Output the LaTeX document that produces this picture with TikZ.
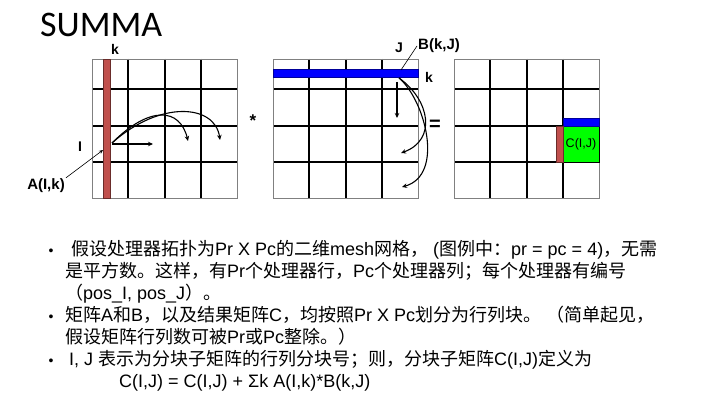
\documentclass[tikz,border=0pt]{standalone}
\usepackage{fontspec}
\setmainfont{Liberation Sans}
\newfontfamily\cjk{Noto Sans CJK SC}
\newfontfamily\titlefont{Carlito}
\usepackage{xcolor}
\usepackage{tikz}
\usetikzlibrary{arrows.meta}

\definecolor{barred}{RGB}{192,80,77}
\definecolor{barblue}{RGB}{0,0,255}
\definecolor{cellgreen}{RGB}{0,255,0}

\tikzset{
  lbl/.style={font=\bfseries\fontsize{14}{16}\selectfont, inner sep=1pt},
  txt/.style={anchor=base west, inner sep=0pt, font=\fontsize{18}{22}\selectfont},
  dot/.style={anchor=base, inner sep=0pt, font=\fontsize{14}{22}\selectfont},
  gridline/.style={line width=1.6},
  flow/.style={line width=1.1, -{Stealth[length=5pt,width=4.5pt]}},
}

\begin{document}
\begin{tikzpicture}[x=1pt, y=-1pt]

\useasboundingbox (0,0) rectangle (713,412);

\node[anchor=base west, inner sep=0pt, font=\titlefont\fontsize{36}{40}\selectfont] (title) at (40,37) {SUMMA};

% the three 4x4 grids
\foreach \gx in {92,273,454}{
  \draw[gridline] (\gx+36,59) -- (\gx+36,198);
  \draw[gridline] (\gx+73,59) -- (\gx+73,198);
  \draw[gridline] (\gx+109,59) -- (\gx+109,198);
  \draw[gridline] (\gx,89) -- (\gx+145,89);
  \draw[gridline] (\gx,126) -- (\gx+145,126);
  \draw[gridline] (\gx,162) -- (\gx+145,162);
  \draw[gray, line width=0.9] (\gx,59) rectangle (\gx+145,198);
}

% A: column block k
\draw[fill=barred, draw=barred!55!black, line width=0.7] (103,59) rectangle (110,198);

\node[lbl, inner sep=0pt] (kA) at (115,49) {k};
\node[lbl] (IA) at (80,147) {I};
\node[lbl, font=\bfseries\fontsize{15}{16}\selectfont] (Alabel) at (46,186) {A(I,k)};
\coordinate (abar) at (103,150);
\draw[line width=0.6, -{Stealth[length=4pt,width=3.5pt]}] (Alabel.north east) -- (abar);

\coordinate (astart) at (112,143);
\coordinate (aend0) at (153,144);
\coordinate (aend1) at (188,141);
\coordinate (aend2) at (220,140);
\draw[flow] (112,144) -- (aend0);
\draw[flow] (astart) .. controls (150,105) and (180,108) .. (aend1);
\draw[flow] (astart) .. controls (160,100) and (215,104) .. (aend2);

\node[lbl, font=\bfseries\fontsize{17}{18}\selectfont] (star) at (253,121) {*};

% B: row block k
\draw[fill=barblue, draw=barblue!60!black, line width=0.6] (273,69) rectangle (418,77);

\node[lbl] (JB) at (399,48) {J};
\node[lbl, font=\bfseries\fontsize{15}{16}\selectfont, anchor=west] (Blabel) at (417,46) {B(k,J)};
\node[lbl] (kB) at (429,77) {k};
\coordinate (bbar) at (401,70);
\draw[line width=0.6] (Blabel.west) -- (bbar);

\coordinate (bstart) at (399,78);
\coordinate (bend0) at (397,118);
\coordinate (bend1) at (401,153);
\coordinate (bend2) at (402,187);
\draw[flow] (397,82) -- (bend0);
\draw[flow] (bstart) .. controls (430,100) and (437,140) .. (bend1);
\draw[flow] (bstart) .. controls (425,100) and (445,175) .. (bend2);

\node[lbl, font=\bfseries\fontsize{20}{20}\selectfont] (eq) at (435,125) {=};

% C: block C(I,J)
\draw[fill=cellgreen, line width=0.8] (563,126) rectangle (599,162);
\draw[fill=barblue, draw=barblue!60!black, line width=0.6] (563,118) rectangle (599,126);
\draw[fill=barred, draw=barred!55!black, line width=0.6] (556,126) rectangle (563,162);
\node[inner sep=0pt, font=\fontsize{12.5}{14}\selectfont] (Clabel) at (581,144) {C(I,J)};

% bullet text
\node[dot] (d1) at (51,255) {•};
\node[txt] (l1) at (71,255) {{\cjk 假设处理器拓扑为}Pr X Pc{\cjk 的二维}mesh{\cjk 网格，} ({\cjk 图例中：}pr = pc = 4){\cjk ，无需}};
\node[txt] (l2) at (65,277) {{\cjk 是平方数。这样，有}Pr{\cjk 个处理器行，}Pc{\cjk 个处理器列；每个处理器有编号}};
\node[txt] (l3) at (65,299) {{\cjk （}pos\_I, pos\_J{\cjk ）。}};
\node[dot] (d2) at (51,321) {•};
\node[txt] (l4) at (65,321) {{\cjk 矩阵}A{\cjk 和}B{\cjk ，以及结果矩阵}C{\cjk ，均按照}Pr X Pc{\cjk 划分为行列块。} {\cjk （简单起见，}};
\node[txt] (l5) at (65,343) {{\cjk 假设矩阵行列数可被}Pr{\cjk 或}Pc{\cjk 整除。）}};
\node[dot] (d3) at (51,365) {•};
\node[txt] (l6) at (69,365) {I, J {\cjk 表示为分块子矩阵的行列分块号；则，分块子矩阵}C(I,J){\cjk 定义为}};
\node[txt] (l7) at (119,387) {C(I,J) = C(I,J) + Σk A(I,k)*B(k,J)};

\end{tikzpicture}
\end{document}
